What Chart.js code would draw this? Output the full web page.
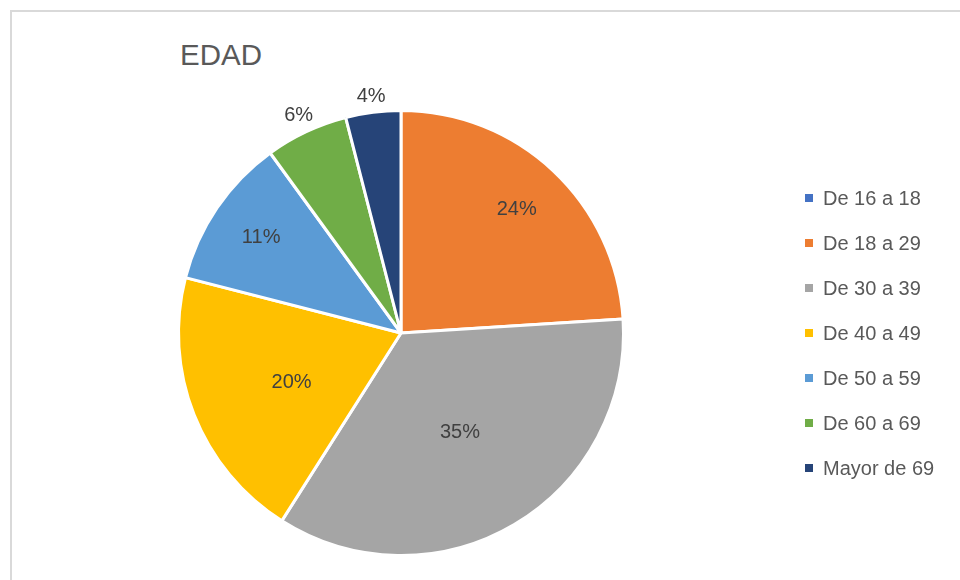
<!DOCTYPE html>
<html lang="es">
<head>
<meta charset="utf-8" />
<title>EDAD</title>
<style>
*{box-sizing:border-box;margin:0;padding:0}
body{
    width:960px;height:580px;overflow:hidden;
    background:#fff;
    font-family:"Liberation Sans",Arial,sans-serif;
    position:relative;
}
.frame{
    position:absolute;left:10px;top:10px;width:970px;height:590px;
    border:2px solid #d9d9d9;
}
#chart{position:absolute;left:0;top:0}
.title{
    position:absolute;left:180px;top:40px;
    font-size:29.5px;line-height:29.5px;color:#595959;
}
.legend{position:absolute;left:805px;top:188px}
.legend span{
    display:flex;align-items:center;height:20px;margin-bottom:25px;
    font-size:20px;color:#595959;white-space:nowrap;
}
.swatch{width:8px;height:8px;margin-right:10px;display:inline-block}
</style>
</head>
<body>
<div class="frame"></div>
<div class="title">EDAD</div>
<canvas id="chart" width="960" height="580"></canvas>
<div id="legend" class="legend"></div>

<script src="https://cdn.jsdelivr.net/npm/chart.js@4.4.1"></script>
<script>
/* ─── data ───────────────────────────────── */
const labels = ['De 16 a 18','De 18 a 29','De 30 a 39','De 40 a 49','De 50 a 59','De 60 a 69','Mayor de 69'];
const values = [0, 24, 35, 20, 11, 6, 4];
const colors = ['#4472c4','#ed7d31','#a5a5a5','#ffc000','#5b9bd5','#70ad47','#264478'];

/* label distance from centre, as share of radius (>1 = outside the pie) */
const labelPos = [0, 0.76, 0.52, 0.54, 0.76, 1.08, 1.07];

/* draws the % next to each slice */
const pctLabels = {
    id:'pctLabels',
    afterDatasetsDraw(chart){
        const {ctx} = chart;
        const meta = chart.getDatasetMeta(0);
        ctx.save();
        ctx.font = '20px "Liberation Sans", Arial, sans-serif';
        ctx.fillStyle = '#404040';
        ctx.textAlign = 'center';
        ctx.textBaseline = 'middle';
        meta.data.forEach((arc,i)=>{
            const v = chart.data.datasets[0].data[i];
            if(!v) return;
            const {x,y,startAngle,endAngle,outerRadius} = arc.getProps(['x','y','startAngle','endAngle','outerRadius'],true);
            const mid = (startAngle+endAngle)/2 - (i===3 ? 0.05 : 0);
            const r = outerRadius*labelPos[i];
            ctx.fillText(v+'%', x+Math.cos(mid)*r, y+Math.sin(mid)*r);
        });
        ctx.restore();
    }
};

new Chart(document.getElementById('chart'),{
    type:'pie',
    data:{
        labels,
        datasets:[{data:values, backgroundColor:colors, borderColor:'#fff', borderWidth:3}]
    },
    options:{
        responsive:false,
        animation:false,
        layout:{padding:{left:177, right:335, top:109, bottom:23}},
        plugins:{
            legend:{display:false},
            tooltip:{enabled:false}
        }
    },
    plugins:[pctLabels]
});

/* legend */
const wrap = document.getElementById('legend');
labels.forEach((l,i)=>{
    const span = document.createElement('span');
    const sw = document.createElement('i');
    sw.className = 'swatch';
    sw.style.backgroundColor = colors[i];
    span.appendChild(sw);
    span.appendChild(document.createTextNode(l));
    wrap.appendChild(span);
});
</script>
</body>
</html>
